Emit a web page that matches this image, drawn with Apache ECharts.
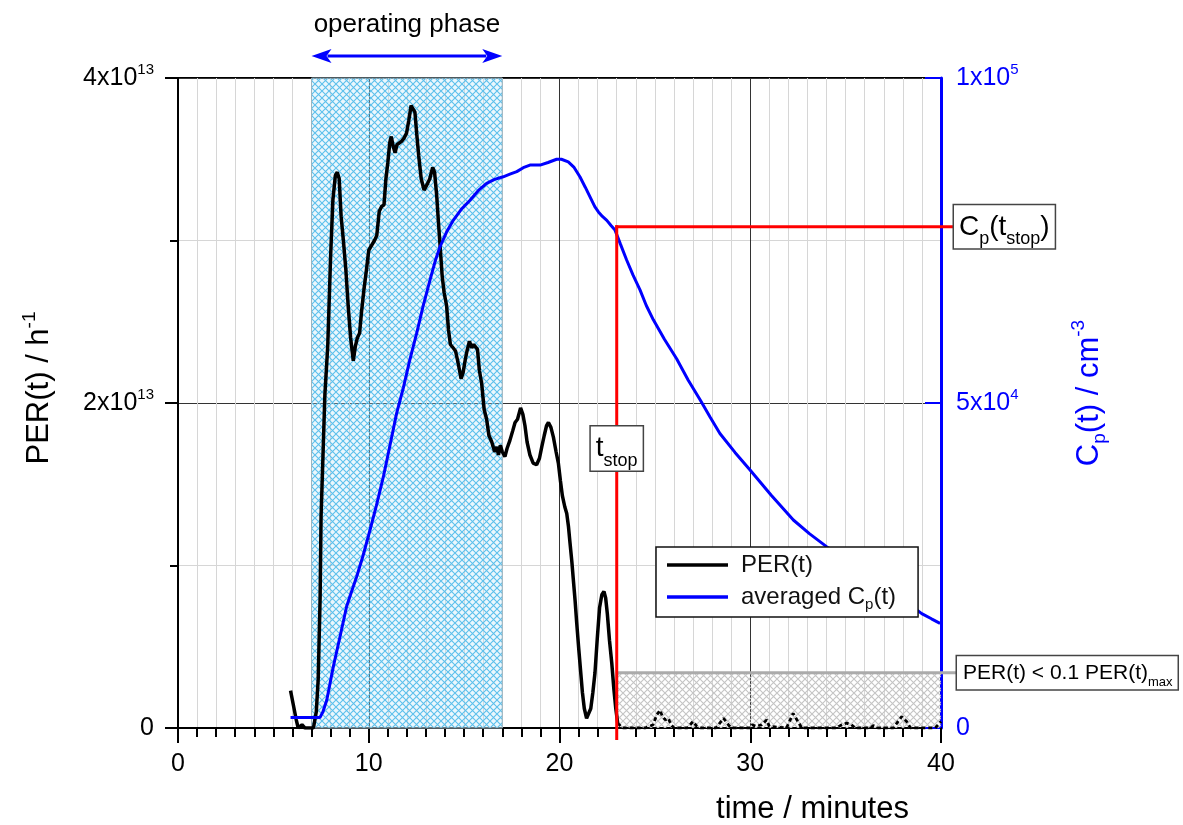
<!DOCTYPE html>
<html>
<head>
<meta charset="utf-8">
<script src="https://cdn.jsdelivr.net/npm/echarts@6/dist/echarts.min.js"></script>
<style>
html,body{margin:0;padding:0;background:#fff;}
#main{width:1183px;height:825px;}
</style>
</head>
<body>
<div id="main"></div>
<script>
// ---------------- data ----------------
// PER(t) (units of 1e13 h^-1) before t_stop
const perTime = [5.90,6.05,6.20,6.30,6.50,6.65,7.10,7.25,7.35,7.45,7.50,7.70,7.85,8.00,8.12,8.25,8.35,8.45,8.55,8.67,8.80,8.92,9.05,9.19,9.30,9.40,9.52,9.62,9.75,9.88,10.00,10.15,10.30,10.42,10.55,10.68,10.80,10.90,11.00,11.10,11.18,11.28,11.38,11.48,11.60,11.72,11.85,11.98,12.10,12.22,12.30,12.42,12.52,12.62,12.75,12.90,12.97,13.08,13.20,13.35,13.45,13.56,13.66,13.75,13.85,13.95,14.08,14.18,14.28,14.42,14.55,14.66,14.76,14.84,14.95,15.05,15.15,15.28,15.40,15.50,15.60,15.70,15.80,15.92,16.05,16.18,16.30,16.45,16.60,16.72,16.80,16.90,17.00,17.14,17.25,17.40,17.55,17.67,17.80,17.96,18.08,18.19,18.30,18.45,18.62,18.80,18.95,19.07,19.20,19.32,19.42,19.55,19.68,19.82,19.94,20.05,20.15,20.28,20.38,20.47,20.55,20.65,20.72,20.82,20.90,21.00,21.10,21.20,21.30,21.42,21.52,21.64,21.75,21.86,21.98,22.10,22.22,22.33,22.42,22.51,22.62,22.74,22.85,22.95,23.05];
const perValue = [0.23,0.14,0.05,0.00,0.02,0.00,0.00,0.10,0.30,0.80,1.30,2.05,2.35,2.90,3.25,3.40,3.42,3.38,3.15,3.00,2.82,2.60,2.40,2.26,2.35,2.40,2.43,2.56,2.70,2.82,2.94,2.97,3.00,3.03,3.18,3.21,3.22,3.38,3.48,3.60,3.64,3.58,3.54,3.59,3.60,3.61,3.63,3.66,3.74,3.83,3.84,3.79,3.65,3.52,3.38,3.31,3.30,3.35,3.38,3.45,3.42,3.28,3.10,2.95,2.78,2.68,2.60,2.45,2.36,2.34,2.32,2.26,2.20,2.15,2.19,2.26,2.32,2.38,2.34,2.36,2.37,2.33,2.20,2.12,1.96,1.90,1.80,1.76,1.70,1.73,1.68,1.74,1.70,1.67,1.72,1.77,1.83,1.88,1.90,1.97,1.93,1.86,1.76,1.68,1.63,1.62,1.66,1.73,1.80,1.86,1.88,1.85,1.79,1.70,1.63,1.52,1.43,1.36,1.32,1.24,1.14,1.02,0.92,0.78,0.65,0.50,0.36,0.22,0.12,0.06,0.07,0.12,0.22,0.34,0.55,0.74,0.82,0.84,0.80,0.70,0.54,0.40,0.24,0.12,0.03];
// PER(t) after t_stop (dashed), units of 1e13
const tailTime = [23.05,23.30,24.50,24.90,25.10,25.27,25.40,25.55,25.70,25.85,26.00,26.70,27.00,27.20,27.40,28.20,28.60,28.85,29.00,30.00,30.10,30.30,30.60,30.86,31.00,31.10,31.90,32.25,32.50,32.70,34.50,34.80,35.05,35.30,35.50,36.30,36.45,36.70,37.50,37.94,38.20,38.40,39.70,39.85,40.00];
const tailValue = [0.03,0.00,0.00,0.02,0.08,0.11,0.07,0.05,0.06,0.02,0.00,0.00,0.04,0.01,0.00,0.00,0.06,0.02,0.00,0.00,0.02,0.01,0.02,0.05,0.01,0.00,0.00,0.09,0.04,0.00,0.00,0.02,0.03,0.02,0.00,0.00,0.015,0.00,0.00,0.07,0.04,0.00,0.00,0.02,0.04];
// averaged Cp(t), cm^-3
const cpTime = [5.90,7.44,7.60,7.80,8.14,8.49,8.84,9.10,9.37,9.70,10.07,10.40,10.77,11.10,11.46,11.81,12.15,12.51,12.85,13.21,13.48,13.73,14.08,14.43,14.85,15.31,15.75,16.18,16.60,17.05,17.40,17.76,18.10,18.45,18.98,19.40,19.85,20.10,20.46,20.75,21.07,21.35,21.60,21.85,22.04,22.25,22.48,22.70,22.91,23.20,23.52,23.85,24.22,24.55,24.92,25.50,26.14,26.75,27.37,27.90,28.41,29.20,29.99,31.10,32.26,33.10,34.00,35.00,36.00,37.00,38.00,38.99,39.50,39.95];
const cpValue = [1600,1600,2500,4300,9400,14000,18700,21000,23300,26500,30500,34200,38700,43300,48400,52300,56600,60700,64900,68900,71800,74000,76300,78100,79800,81200,82700,83800,84400,84800,85200,85600,86200,86600,86600,87000,87500,87500,87100,86300,84800,83200,81700,80200,79400,78700,78100,77300,76600,74400,72000,69700,67400,65000,62800,59800,56800,53500,50500,47800,45300,42400,39700,35800,32000,29900,27900,26000,24000,21900,19800,17600,16800,16100];

// annotation values
const phaseStart = 7, phaseEnd = 17;
const tStop = 23;
const cpAtStop = 77100;
const perThreshold = 0.34e13;
const tStopLabelLevel = 1.72e13;

// ticks and labels
const timeTickLabels = ['0','10','20','30','40'];
const perTickValues = [0, 2e13, 4e13];
const perTickLabels = ['0', '2x10{sup|13}', '4x10{sup|13}'];
const cpTickValues = [0, 5e4, 1e5];
const cpTickLabels = ['0', '5x10{sup|4}', '1x10{sup|5}'];
const seriesNames = ['PER(t)', 'averaged Cp(t)'];

// ---------------- helpers ----------------
const FF = '"Liberation Sans", Arial, Helvetica, sans-serif';
const BLUE = '#0000ff';
const RED = '#ff0000';

function hatch(lineColor, bg) {
  const s = 7;
  const c = document.createElement('canvas');
  c.width = s; c.height = s;
  const g = c.getContext('2d');
  if (bg) { g.fillStyle = bg; g.fillRect(0, 0, s, s); }
  g.strokeStyle = lineColor; g.lineWidth = 1.1;
  g.beginPath();
  g.moveTo(-1, -1); g.lineTo(s + 1, s + 1);
  g.moveTo(s + 1, -1); g.lineTo(-1, s + 1);
  g.stroke();
  return c;
}
const blueHatch = hatch('#5cc0ec', 'rgba(190,228,247,0.30)');
const grayHatch = hatch('#c4c4c4', null);

const perData = perTime.map((t, i) => [t, perValue[i] * 1e13]);
const tailData = tailTime.map((t, i) => [t, tailValue[i] * 1e13]);
const cpData = cpTime.map((t, i) => [t, cpValue[i]]);

function idxOf(arr, v) {
  for (let i = 0; i < arr.length; i++) if (Math.abs(arr[i] - v) < 1e-6 * Math.max(1, Math.abs(v))) return i;
  return -1;
}

const supStyle = (size, color) => ({fontSize: size, lineHeight: size, verticalAlign: 'top', fontFamily: FF, color: color});
const subStyle = (size, color) => ({fontSize: size, lineHeight: size, verticalAlign: 'bottom', fontFamily: FF, color: color});

const chart = echarts.init(document.getElementById('main'), null, {renderer: 'canvas'});

const option = {
  animation: false,
  backgroundColor: '#fff',
  textStyle: {fontFamily: FF},
  grid: {left: 178, right: 242, top: 78, bottom: 97, show: true, borderColor: '#000', borderWidth: 2, backgroundColor: 'transparent', containLabel: false, outerBoundsMode: 'none'},
  legend: {
    left: 656, top: 547, orient: 'vertical',
    data: seriesNames,
    icon: 'rect', itemWidth: 61, itemHeight: 3.5, itemGap: 2,
    backgroundColor: '#fff', borderColor: '#111', borderWidth: 1.5, borderRadius: 0,
    padding: [3, 22, 5, 11],
    selectedMode: false,
    formatter: n => n === 'averaged Cp(t)' ? 'averaged C{sub|p}(t)' : n,
    textStyle: {fontSize: 24, color: '#111', fontFamily: FF, lineHeight: 30, padding: [0, 0, 0, 8],
      rich: {sub: subStyle(15, '#111')}}
  },
  xAxis: {
    type: 'value', min: 0, max: 40, interval: 10,
    axisLine: {show: true, onZero: false, lineStyle: {color: '#000', width: 2}},
    axisTick: {show: true, length: 15, lineStyle: {color: '#000', width: 2}},
    minorTick: {show: true, splitNumber: 10, length: 9, lineStyle: {color: '#000', width: 2}},
    splitLine: {show: true, lineStyle: {color: '#333', width: 1}},
    minorSplitLine: {show: true, lineStyle: {color: '#d6d6d6', width: 1}},
    axisLabel: {fontSize: 25, color: '#000', margin: 24, fontFamily: FF,
      formatter: v => timeTickLabels[Math.round(v / 10)] ?? ''},
    name: 'time / minutes', nameLocation: 'middle', nameGap: 66,
    nameTextStyle: {fontSize: 31, color: '#000', fontFamily: FF, padding: [0, 0, 0, 506]}
  },
  yAxis: [
    {
      type: 'value', min: 0, max: 4e13, interval: 2e13, position: 'left',
      axisLine: {show: true, onZero: false, lineStyle: {color: '#000', width: 2}},
      axisTick: {show: true, length: 13, lineStyle: {color: '#000', width: 2}},
      minorTick: {show: true, splitNumber: 2, length: 8, lineStyle: {color: '#000', width: 2}},
      splitLine: {show: true, lineStyle: {color: '#333', width: 1}},
      minorSplitLine: {show: true, lineStyle: {color: '#d6d6d6', width: 1}},
      axisLabel: {fontSize: 25, color: '#000', margin: 24, fontFamily: FF, lineHeight: 32,
        formatter: v => { const i = idxOf(perTickValues, v); return i >= 0 ? perTickLabels[i] : ''; },
        rich: {sup: supStyle(15, '#000')}},
      name: 'PER(t) / h{sup|-1}', nameLocation: 'middle', nameRotate: 90, nameGap: 120,
      nameTextStyle: {fontSize: 31, color: '#000', fontFamily: FF, lineHeight: 38, padding: [0, 0, 0, 30],
        rich: {sup: supStyle(19, '#000')}}
    },
    {
      type: 'value', min: 0, max: 1e5, interval: 5e4, position: 'right',
      axisLine: {show: true, onZero: false, lineStyle: {color: BLUE, width: 3}},
      axisTick: {show: true, inside: true, length: 16, lineStyle: {color: BLUE, width: 2}},
      splitLine: {show: false},
      axisLabel: {fontSize: 25, color: BLUE, margin: 15, fontFamily: FF, lineHeight: 32,
        formatter: v => { const i = idxOf(cpTickValues, v); return i >= 0 ? cpTickLabels[i] : ''; },
        rich: {sup: supStyle(15, BLUE)}},
      name: 'C{sub|p}(t) / cm{sup|-3}', nameLocation: 'middle', nameRotate: 90, nameGap: 128,
      nameTextStyle: {fontSize: 31, color: BLUE, fontFamily: FF, lineHeight: 40, padding: [0, 0, 0, 20],
        rich: {sup: supStyle(19, BLUE), sub: subStyle(19, BLUE)}}
    }
  ],
  series: [
    {
      name: 'PER(t)', type: 'line', data: perData, xAxisIndex: 0, yAxisIndex: 0,
      showSymbol: false, symbol: 'none', smooth: false, z: 3,
      lineStyle: {color: '#000', width: 3.5}, itemStyle: {color: '#000'},
      markArea: {silent: true, z: 1,
        itemStyle: {color: {image: blueHatch, repeat: 'repeat'}, borderColor: '#9db4bf', borderWidth: 1},
        label: {show: false},
        data: [[{xAxis: phaseStart}, {xAxis: phaseEnd}]]}
    },
    {
      name: 'PER tail', type: 'line', data: tailData, xAxisIndex: 0, yAxisIndex: 0,
      showSymbol: false, symbol: 'none', z: 3,
      lineStyle: {color: '#000', width: 2.8, type: [4, 3]},
      markArea: {silent: true, z: 1,
        itemStyle: {color: {image: grayHatch, repeat: 'repeat'}},
        label: {show: false},
        data: [[{xAxis: tStop, yAxis: 0}, {xAxis: 40, yAxis: perThreshold}]]}
    },
    {
      name: 'averaged Cp(t)', type: 'line', data: cpData, xAxisIndex: 0, yAxisIndex: 1,
      showSymbol: false, symbol: 'none', z: 3,
      lineStyle: {color: BLUE, width: 3}, itemStyle: {color: BLUE}
    }
  ]
};
chart.setOption(option);

// ------------- annotations (positions from the chart's own scales) -------------
function placeAnnotations() {
  const P = (x, y) => chart.convertToPixel({seriesIndex: 0}, [x, y]);
  const PR = (x, y) => chart.convertToPixel({seriesIndex: 2}, [x, y]);
  const [xA, yTop] = P(phaseStart, 4e13);
  const [xB] = P(phaseEnd, 4e13);
  const [xMid] = P((phaseStart + phaseEnd) / 2, 4e13);
  const [xRight, y0] = P(40, 0);
  const ay = yTop - 22;
  const [rx, ry] = PR(tStop, cpAtStop);
  const [, gy] = P(tStop, perThreshold);
  const [, ty] = P(tStop, tStopLabelLevel);
  const head = 20, hw = 7;
  const subRich = (fs) => ({sub: {fontSize: fs, lineHeight: fs, verticalAlign: 'bottom', fontFamily: FF, fill: '#000'}});

  chart.setOption({graphic: {elements: [
    {type: 'line', z: 100, shape: {x1: xA + head - 4, y1: ay, x2: xB - head + 4, y2: ay}, style: {stroke: BLUE, lineWidth: 3}},
    {type: 'polygon', z: 100, shape: {points: [[xA, ay], [xA + head, ay - hw], [xA + head - 5, ay], [xA + head, ay + hw]]}, style: {fill: BLUE}},
    {type: 'polygon', z: 100, shape: {points: [[xB, ay], [xB - head, ay - hw], [xB - head + 5, ay], [xB - head, ay + hw]]}, style: {fill: BLUE}},
    {type: 'text', z: 100, x: xMid, y: 25, style: {text: 'operating phase', fontSize: 26, fontFamily: FF, fill: '#000', align: 'center', verticalAlign: 'middle'}},
    // red t_stop lines
    {type: 'line', z: 100, shape: {x1: rx, y1: y0 + 12, x2: rx, y2: ry - 1.5}, style: {stroke: RED, lineWidth: 3}},
    {type: 'line', z: 100, shape: {x1: rx - 1.5, y1: ry, x2: xRight + 13, y2: ry}, style: {stroke: RED, lineWidth: 3}},
    // gray threshold line
    {type: 'line', z: 99, shape: {x1: rx, y1: gy, x2: xRight + 16, y2: gy}, style: {stroke: '#ababab', lineWidth: 3}},
    // label boxes
    {type: 'text', z: 101, x: xRight + 13, y: ry, style: {
      text: 'C{sub|p}(t{sub|stop})', fontSize: 28, fontFamily: FF, fill: '#000', lineHeight: 43,
      align: 'left', verticalAlign: 'middle',
      backgroundColor: '#fff', borderColor: '#444', borderWidth: 1.5, padding: [0, 5, 0, 5],
      rich: subRich(18)}},
    {type: 'text', z: 101, x: rx, y: ty, style: {
      text: 't{sub|stop}', fontSize: 28, fontFamily: FF, fill: '#000', lineHeight: 44,
      align: 'center', verticalAlign: 'middle',
      backgroundColor: '#fff', borderColor: '#444', borderWidth: 1.5, padding: [0, 5, 0, 5],
      rich: subRich(18)}},
    {type: 'text', z: 101, x: xRight + 16, y: gy, style: {
      text: 'PER(t) < 0.1 PER(t){sub|max}', fontSize: 21, fontFamily: FF, fill: '#000', lineHeight: 33,
      align: 'left', verticalAlign: 'middle',
      backgroundColor: '#fff', borderColor: '#444', borderWidth: 1.5, padding: [0, 5, 0, 6],
      rich: subRich(13)}}
  ]}});
}
placeAnnotations();
</script>
</body>
</html>
